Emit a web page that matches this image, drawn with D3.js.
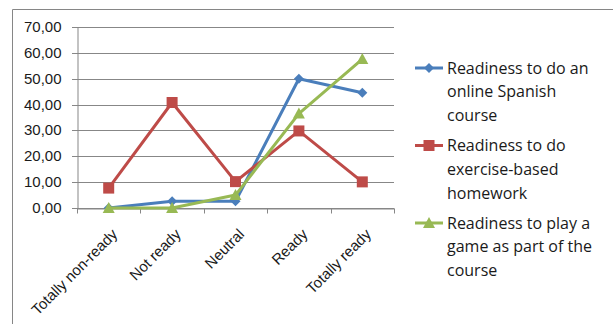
<!DOCTYPE html>
<html lang='en'>
<head>
    <meta charset='UTF-8'>
    <title>Readiness chart</title>
    <style>
        body { margin: 0; background: #fff; }
        svg { display: block; }
    </style>
</head>
<body>
    <div id='anchor'></div>
    <script src='https://cdnjs.cloudflare.com/ajax/libs/d3/7.8.5/d3.min.js'></script>
    <script>
        const categories = ['Totally non-ready', 'Not ready', 'Neutral', 'Ready', 'Totally ready'];
        const onlineCourse = [0, 2.6, 2.6, 50, 44.6];
        const homework = [7.7, 40.8, 10.2, 29.8, 10.1];
        const game = [0, 0, 5.0, 36.5, 57.6];
        const yTicks = [0, 10, 20, 30, 40, 50, 60, 70];

        const series = [
            { lines: ['Readiness to do an', 'online Spanish', 'course'], values: onlineCourse, color: '#4a7ebb', marker: 'diamond' },
            { lines: ['Readiness to do', 'exercise-based', 'homework'], values: homework, color: '#be4b48', marker: 'square' },
            { lines: ['Readiness to play a', 'game as part of the', 'course'], values: game, color: '#98b954', marker: 'triangle' }
        ];

        const W = 613, H = 324;
        const plot = { left: 77, right: 394, top: 27, bottom: 208 };

        const svg = d3.select('#anchor').append('svg')
            .attr('width', W).attr('height', H)
            .attr('font-family', '"Open Sans", sans-serif');

        // outer chart border (only top and left visible in crop)
        svg.append('path')
            .attr('d', `M12.5,${H}V9.5H${W}`)
            .attr('fill', 'none').attr('stroke', '#868686').attr('stroke-width', 1);

        const x = d3.scaleBand().domain(categories).range([plot.left, plot.right]);
        const y = d3.scaleLinear().domain([0, 70]).range([plot.bottom, plot.top]);

        // gridlines (extend 5px left of the axis as tick marks)
        svg.append('g')
            .selectAll('line')
            .data(yTicks)
            .join('line')
            .attr('x1', plot.left - 5).attr('x2', plot.right)
            .attr('y1', d => Math.round(y(d)) + 0.5).attr('y2', d => Math.round(y(d)) + 0.5)
            .attr('stroke', '#878787').attr('stroke-width', 1);

        // y axis
        const yAxis = svg.append('g')
            .attr('transform', `translate(${plot.left + 0.5},0)`)
            .call(d3.axisLeft(y).tickValues(yTicks).tickSize(0).tickPadding(16)
                .tickFormat(d => d3.format('.2f')(d).replace('.', ',')));
        yAxis.select('.domain').attr('stroke', '#878787');
        yAxis.selectAll('text').attr('font-size', 15).attr('fill', '#1a1a1a');
        yAxis.selectAll('.tick').attr('transform', d => `translate(0,${Math.round(y(d)) + 0.5})`);

        // x axis
        const xAxis = svg.append('g')
            .attr('transform', `translate(0,${Math.round(plot.bottom) + 0.5})`)
            .call(d3.axisBottom(x).tickSize(0).tickSizeOuter(0));
        xAxis.select('.domain').attr('stroke', '#878787');
        xAxis.selectAll('text')
            .attr('font-size', 15).attr('fill', '#1a1a1a')
            .attr('text-anchor', 'end')
            .attr('transform', 'translate(6,23) rotate(-45)')
            .attr('dy', '0.35em').attr('y', 0);
        // tick marks at category boundaries
        const bounds = categories.map(c => x(c)).concat([x(categories[categories.length - 1]) + x.bandwidth()]);
        xAxis.selectAll('.bound')
            .data(bounds)
            .join('line')
            .attr('class', 'bound')
            .attr('x1', d => Math.round(d) + 0.5).attr('x2', d => Math.round(d) + 0.5)
            .attr('y1', 0).attr('y2', 5)
            .attr('stroke', '#878787');

        const cx = c => x(c) + x.bandwidth() / 2;
        const line = d3.line().x((d, i) => cx(categories[i])).y(d => y(d));

        function drawMarker(g, type, px, py, color) {
            if (type === 'diamond') {
                g.append('path').attr('d', `M${px},${py - 5}L${px + 5},${py}L${px},${py + 5}L${px - 5},${py}Z`).attr('fill', color);
            } else if (type === 'square') {
                g.append('rect').attr('x', px - 5.5).attr('y', py - 5.5).attr('width', 11).attr('height', 11).attr('fill', color);
            } else {
                g.append('path').attr('d', `M${px},${py - 6}L${px + 6},${py + 5}L${px - 6},${py + 5}Z`).attr('fill', color);
            }
        }

        series.forEach(s => {
            svg.append('path')
                .datum(s.values)
                .attr('d', line)
                .attr('fill', 'none').attr('stroke', s.color).attr('stroke-width', 3)
                .attr('stroke-linejoin', 'round');
            const g = svg.append('g');
            s.values.forEach((v, i) => drawMarker(g, s.marker, cx(categories[i]), y(v), s.color));
        });

        // legend
        const legend = svg.append('g');
        series.forEach((s, k) => {
            const top = 68 + k * 77.5;
            legend.append('line')
                .attr('x1', 415).attr('x2', 443).attr('y1', top).attr('y2', top)
                .attr('stroke', s.color).attr('stroke-width', 3);
            drawMarker(legend, s.marker, 429, top, s.color);
            s.lines.forEach((t, j) => {
                legend.append('text')
                    .attr('x', 447).attr('y', top + j * 23.7)
                    .attr('dy', '0.35em')
                    .attr('font-size', 16).attr('fill', '#1a1a1a')
                    .text(t);
            });
        });
    </script>
</body>
</html>
